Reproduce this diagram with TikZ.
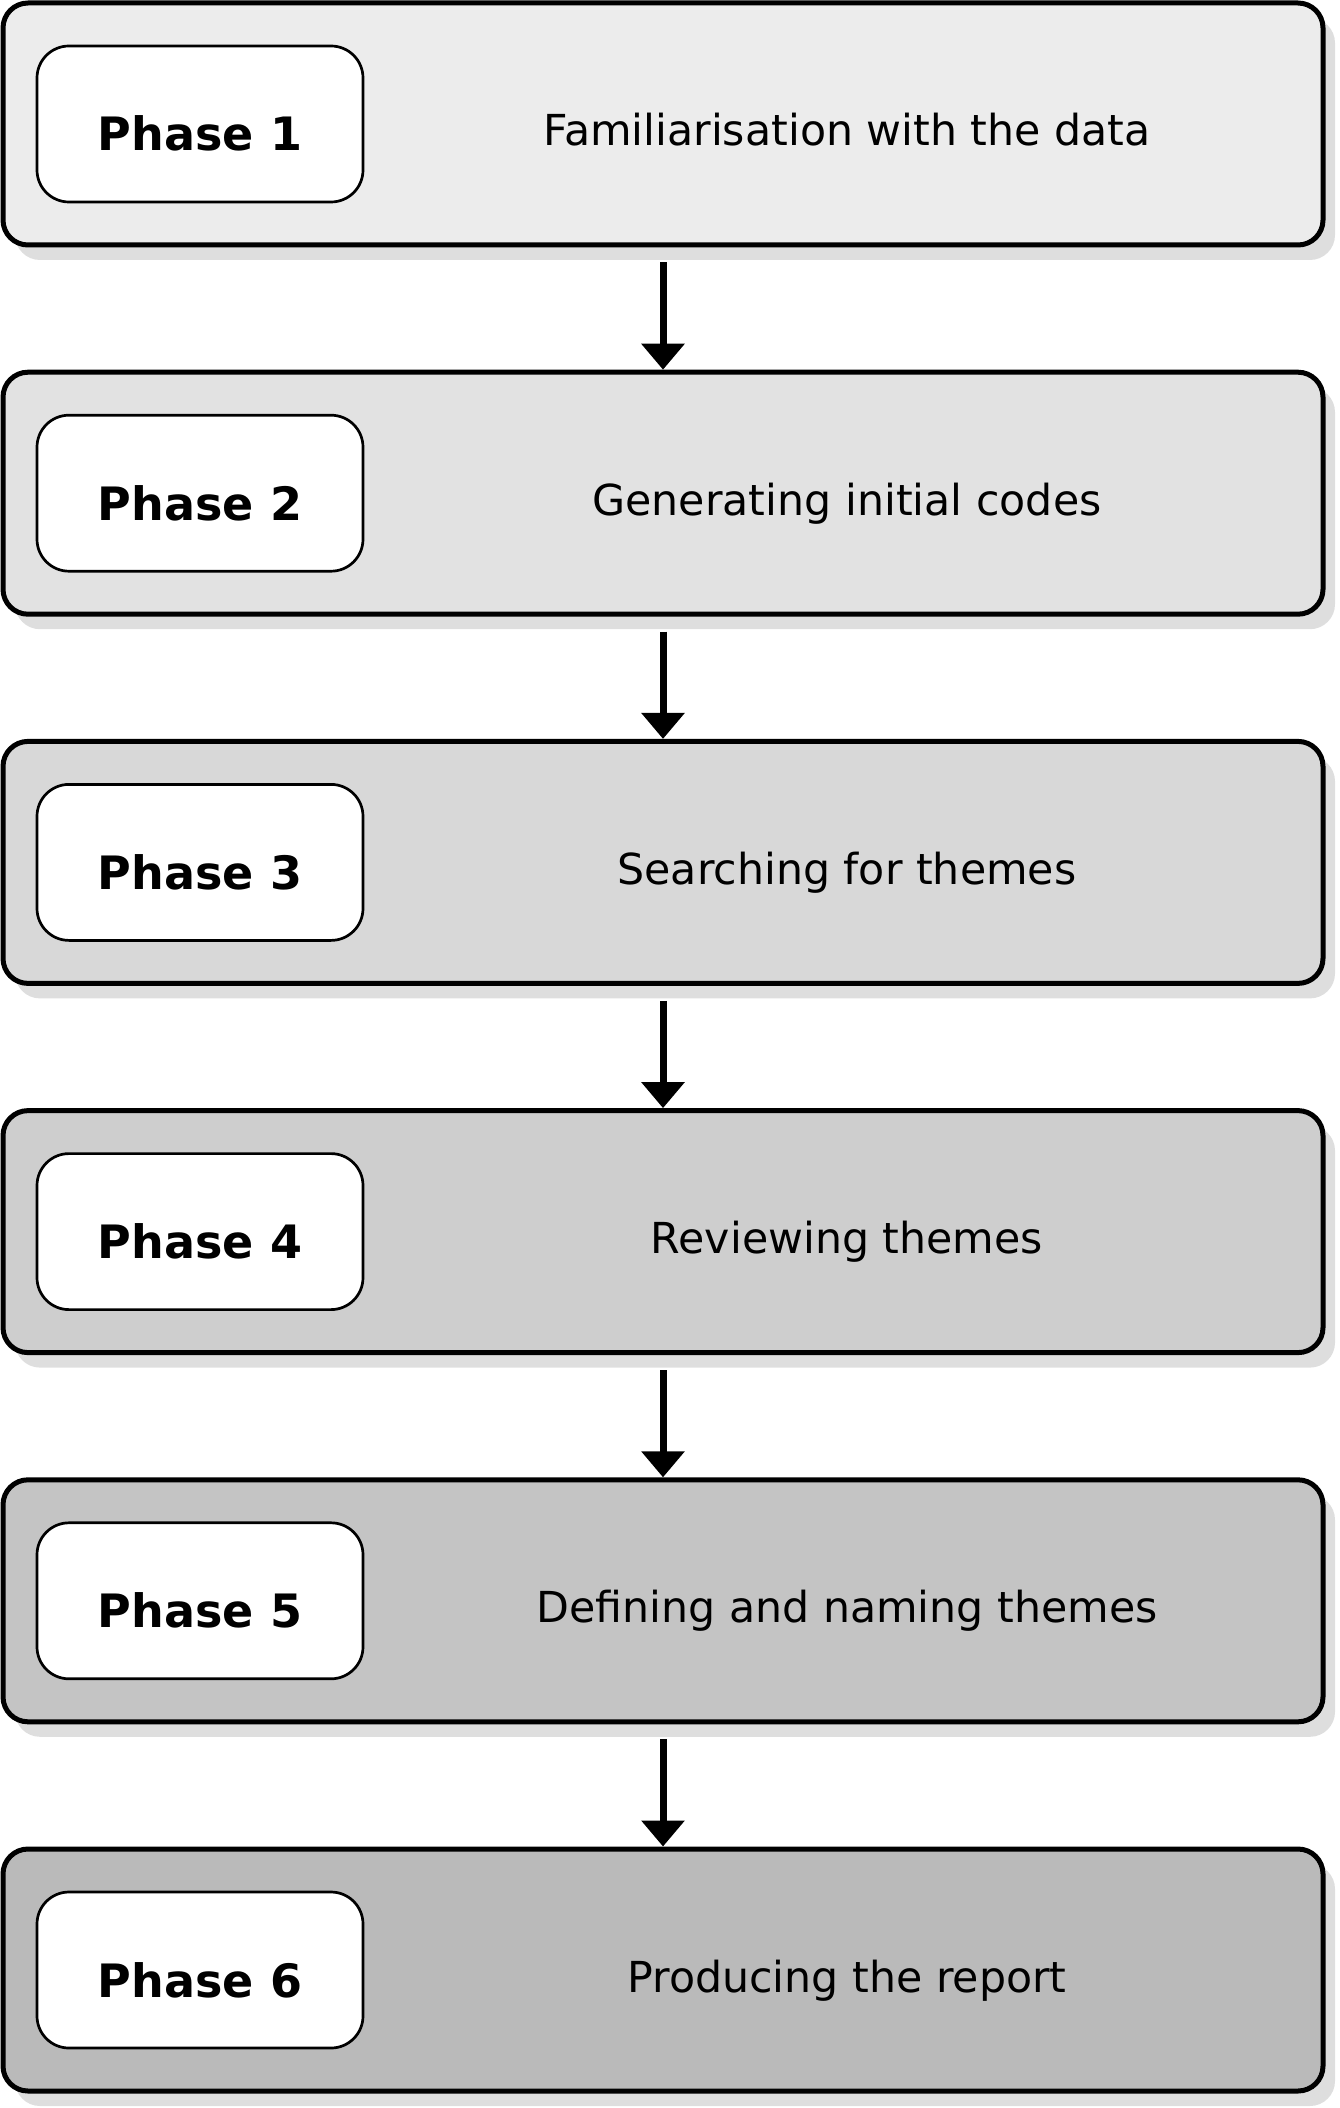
\documentclass[tikz,border=0pt]{standalone}
\usepackage{fontspec}
\setmainfont{DejaVu Sans}
\usetikzlibrary{arrows.meta,shadows}

\definecolor{shadowgrey}{gray}{0.87}

\tikzset{
  phasebox/.style={draw, line width=5pt, rounded corners=25pt,
    minimum width=1320pt, minimum height=242pt, inner sep=0pt,
    drop shadow={shadow xshift=12pt, shadow yshift=-15pt,
      fill=shadowgrey, draw=none, opacity=1}},
  tagbox/.style={draw, line width=2.7pt, fill=white, rounded corners=32pt,
    minimum width=326pt, minimum height=156pt, inner sep=0pt},
  tagtext/.style={anchor=base, inner sep=0pt,
    font=\bfseries\fontsize{46}{55}\selectfont},
  steptext/.style={anchor=base, inner sep=0pt,
    font=\fontsize{42.7}{51}\selectfont},
  flow/.style={line width=7pt, -{Triangle[width=42pt,length=26pt]},
    shorten <=15pt}
}

\begin{document}
\begin{tikzpicture}[x=1pt,y=-1pt]
  % Page
  \useasboundingbox (0,0) rectangle (1339,2108);

  % Phase boxes
  \foreach \i/\txt in {1/Familiarisation with the data,
                       2/Generating initial codes,
                       3/Searching for themes,
                       4/Reviewing themes,
                       5/Defining and naming themes,
                       6/Producing the report} {
    \pgfmathsetmacro\ytop{3+369.2*(\i-1)}
    \pgfmathsetmacro\grey{0.925-0.039*(\i-1)}
    \definecolor{boxfill}{gray}{\grey}
    \node[phasebox, fill=boxfill] (p\i) at (663,\ytop+121) {};
    \node[tagbox] (b\i) at (200,\ytop+121) {};
    \node[tagtext] (t\i) at (200,\ytop+148) {Phase \i};
    \node[steptext] (d\i) at (847,\ytop+143) {\txt};
  }

  % Arrows between phases
  \foreach \i [count=\j from 2] in {1,...,5}
    \draw[flow] (p\i.south) -- (p\j.north);
\end{tikzpicture}
\end{document}
